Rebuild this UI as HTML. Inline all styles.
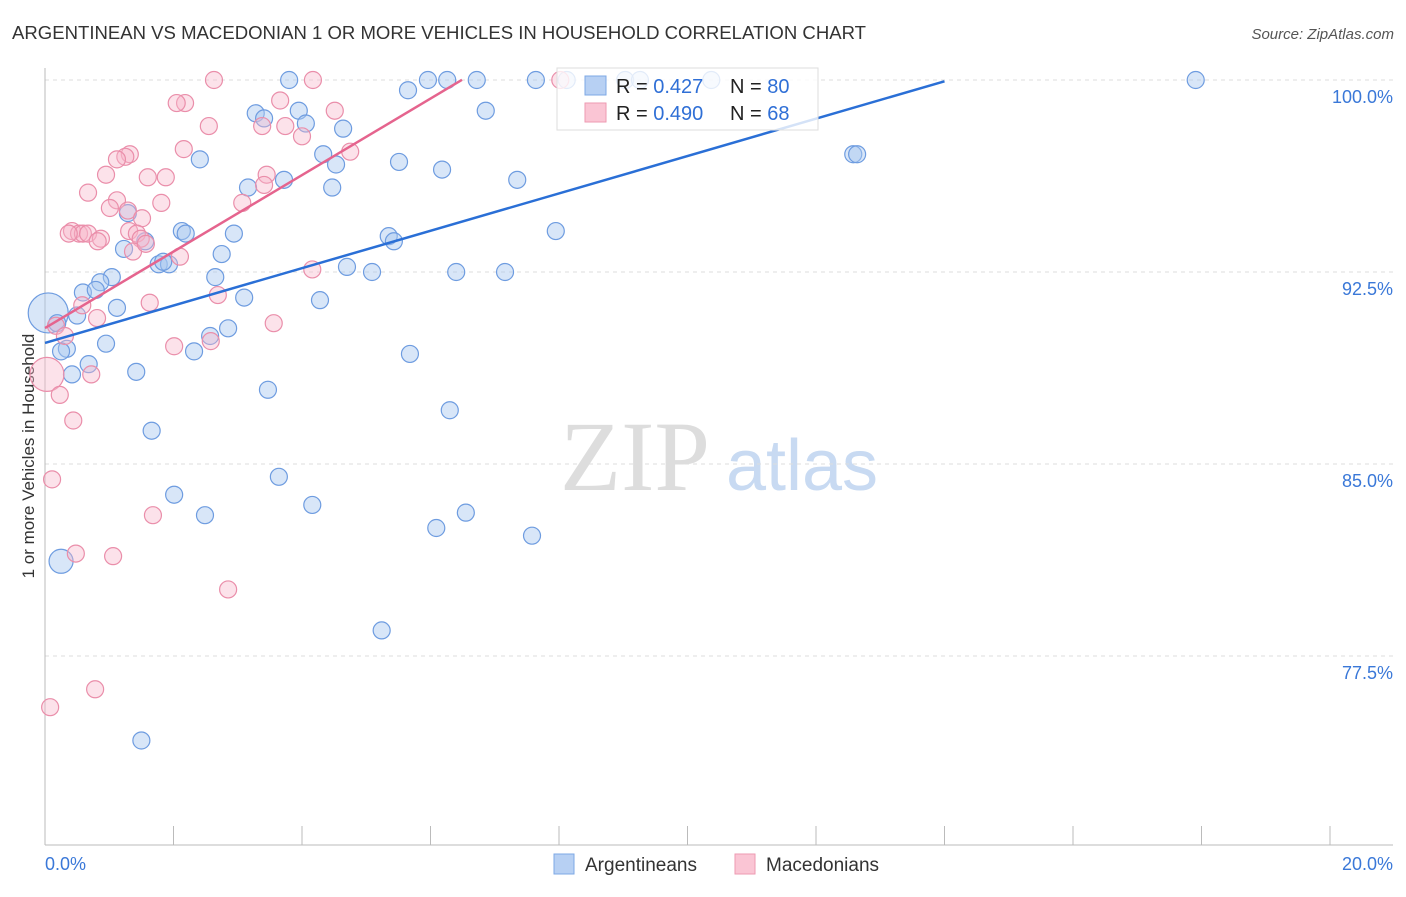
<!DOCTYPE html>
<html><head><meta charset="utf-8"><style>
body{margin:0;background:#fff;font-family:"Liberation Sans",sans-serif;}
</style></head><body>
<svg id="chart" width="1406" height="892" viewBox="0 0 1406 892" font-family="Liberation Sans, sans-serif">
<text x="12" y="39" font-size="18" fill="#333" textLength="854" lengthAdjust="spacingAndGlyphs">ARGENTINEAN VS MACEDONIAN 1 OR MORE VEHICLES IN HOUSEHOLD CORRELATION CHART</text>
<text x="1394" y="39" font-size="15" fill="#555" text-anchor="end" font-style="italic">Source: ZipAtlas.com</text>
<text x="34" y="456" font-size="17" fill="#333" text-anchor="middle" transform="rotate(-90 34 456)">1 or more Vehicles in Household</text>
<g><text x="635" y="490" font-size="100" fill="#ddd" text-anchor="middle" style="font-family:'Liberation Serif',serif">ZIP</text><text x="802" y="490" font-size="72" fill="#c8daf2" text-anchor="middle">atlas</text></g>
<g id="grid"></g><g id="axes"></g><g id="pts"></g><g id="lines"></g>
<g>
<rect x="557" y="68" width="261" height="62" fill="#fff" fill-opacity="0.8" stroke="#ddd"/>
<rect x="585" y="76" width="21" height="19" fill="#b7d0f3" stroke="#7ea8e6"/>
<rect x="585" y="103" width="21" height="19" fill="#fac5d4" stroke="#ee9ab2"/>
<text x="616" y="93" font-size="20" fill="#222">R = <tspan fill="#2f6fd6">0.427</tspan></text>
<text x="730" y="93" font-size="20" fill="#222">N = <tspan fill="#2f6fd6">80</tspan></text>
<text x="616" y="120" font-size="20" fill="#222">R = <tspan fill="#2f6fd6">0.490</tspan></text>
<text x="730" y="120" font-size="20" fill="#222">N = <tspan fill="#2f6fd6"> 68</tspan></text>
</g>
<g>
<rect x="554" y="854" width="20" height="20" fill="#b7d0f3" stroke="#7ea8e6"/>
<text x="585" y="871" font-size="19" fill="#333">Argentineans</text>
<rect x="735" y="854" width="20" height="20" fill="#fac5d4" stroke="#ee9ab2"/>
<text x="766" y="871" font-size="19" fill="#333">Macedonians</text>
</g>
</svg>
<script>
const xTicks=[0,20];
const yTicks=[77.5,85,92.5,100];
const blueX=[0.05,0.25,1.5,3.8,5.96,6.26,6.72,7.64,8.12,9.03,9.26,10.37,17.91,5.65,6.86,3.28,3.41,3.95,4.06,4.64,2.41,4.33,4.53,5.51,6.18,12.58,12.64,7.35,3.72,3.16,4.47,1.29,7.95,2.13,2.19,2.94,5.35,5.43,1.56,1.23,2.75,1.77,1.93,1.84,4.7,5.09,6.4,7.16,1.04,0.86,2.65,0.59,0.79,3.1,4.28,1.12,0.5,0.19,2.85,2.57,0.95,0.34,2.32,5.68,0.68,0.42,1.42,3.47,6.3,1.66,3.64,2.01,4.16,2.49,6.55,6.09,7.58,5.24,0.25];
const blueY=[90.9,81.2,74.2,100,100,100,100,100,100,100,100,100,100,99.6,98.8,98.7,98.5,98.8,98.3,98.1,96.9,97.1,96.7,96.8,96.5,97.1,97.1,96.1,96.1,95.8,95.8,94.8,94.1,94.1,94.0,94.0,93.9,93.7,93.7,93.4,93.2,92.8,92.8,92.9,92.7,92.5,92.5,92.5,92.3,92.1,92.3,91.7,91.8,91.5,91.4,91.1,90.8,90.5,90.3,90.0,89.7,89.5,89.4,89.3,88.9,88.5,88.6,87.9,87.1,86.3,84.5,83.8,83.4,83.0,83.1,82.5,82.2,78.5,89.4];
const blueR=[20,12];
const pinkX=[2.63,4.17,8.02,2.18,2.05,3.66,4.51,2.55,3.38,3.74,4.0,2.16,4.75,1.32,1.25,1.12,0.95,3.45,1.6,1.88,3.41,0.67,1.12,1.81,3.07,1.01,1.29,1.51,0.42,0.53,0.59,0.67,0.37,1.31,0.87,0.82,1.43,1.49,1.37,1.57,2.1,4.16,1.63,0.58,0.81,2.69,3.56,0.17,0.31,2.01,2.58,0.72,0.03,0.23,0.44,0.11,1.68,0.48,1.06,2.85,0.78,0.08];
const pinkY=[100,100,100,99.1,99.1,99.2,98.8,98.2,98.2,98.2,97.8,97.3,97.2,97.1,97.0,96.9,96.3,96.3,96.2,96.2,95.9,95.6,95.3,95.2,95.2,95.0,94.9,94.6,94.1,94.0,94.0,94.0,94.0,94.1,93.8,93.7,94.0,93.8,93.3,93.6,93.1,92.6,91.3,91.2,90.7,91.6,90.5,90.4,90.0,89.6,89.8,88.5,88.5,87.7,86.7,84.4,83.0,81.5,81.4,80.1,76.2,75.5];
const pinkR=[0,0,0,0,0,0,0,0,0,0,0,0,0,0,0,0,0,0,0,0,0,0,0,0,0,0,0,0,0,0,0,0,0,0,0,0,0,0,0,0,0,0,0,0,0,0,0,0,0,0,0,0,17];
const trendIntercept=[89.73,90.31];
const trendSlope=[0.73,1.494];
const trendEnd=[14.0,6.49];
const NS='http://www.w3.org/2000/svg';
const X0=45,X1=1330,Y0=80;
const sx=v=>X0+(v/20)*(X1-X0);
const sy=v=>Y0+(100-v)*25.6;
function mk(tag,attrs,parent){const e=document.createElementNS(NS,tag);for(const k in attrs)e.setAttribute(k,attrs[k]);parent.appendChild(e);return e;}
const grid=document.getElementById('grid'),axes=document.getElementById('axes'),pts=document.getElementById('pts'),lines=document.getElementById('lines');
yTicks.forEach(t=>{const y=sy(t);
const l=mk('line',{x1:45,x2:1393,y1:y,y2:y,stroke:'#ddd','stroke-dasharray':'4,4'},grid);


const tx=mk('text',{x:1393,y:y+23,'font-size':18,fill:'#3a78d8','text-anchor':'end'},axes);tx.textContent=t.toFixed(1)+'%';

});
mk('line',{x1:45,x2:45,y1:68,y2:845,stroke:'#bbb'},axes);
mk('line',{x1:45,x2:1393,y1:845,y2:845,stroke:'#bbb'},axes);
for(let i=0;i<=10;i++){const x=sx(i*2);mk('line',{x1:x,x2:x,y1:826,y2:845,stroke:'#bbb'},axes);}
xTicks.forEach((t,i)=>{const tx=mk('text',{x:i?1393:45,y:870,'font-size':18,fill:'#3a78d8','text-anchor':i?'end':'start'},axes);tx.textContent=t.toFixed(1)+'%';

});
blueX.forEach((v,i)=>{const c=mk('circle',{cx:sx(v),cy:sy(blueY[i]),r:blueR[i]||8.5,fill:'#a9c8f0','fill-opacity':0.45,stroke:'#6e9ce0','stroke-width':1.2},pts);

});
pinkX.forEach((v,i)=>{const c=mk('circle',{cx:sx(v),cy:sy(pinkY[i]),r:pinkR[i]||8.5,fill:'#f7b7ca','fill-opacity':0.4,stroke:'#ea8eaa','stroke-width':1.2},pts);

});
['#2a6fd6','#e5648e'].forEach((col,i)=>{const l=mk('line',{x1:sx(0),y1:sy(trendIntercept[i]),x2:sx(trendEnd[i]),y2:sy(trendIntercept[i]+trendSlope[i]*trendEnd[i]),stroke:col,'stroke-width':2.5},lines);

});
</script>
</body></html>
